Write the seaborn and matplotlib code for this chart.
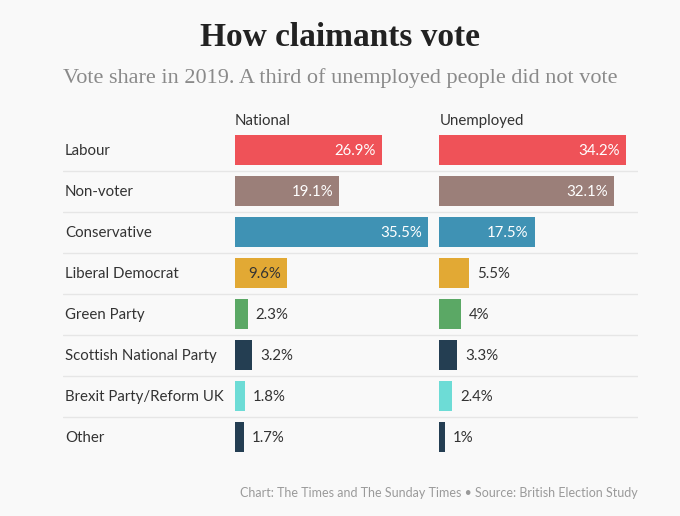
import matplotlib
matplotlib.use("Agg")
import matplotlib.pyplot as plt
import seaborn as sns
import pandas as pd

parties = ["Labour", "Non-voter", "Conservative", "Liberal Democrat", "Green Party",
           "Scottish National Party", "Brexit Party/Reform UK", "Other"]
national = [26.9, 19.1, 35.5, 9.6, 2.3, 3.2, 1.8, 1.7]
unemployed = [34.2, 32.1, 17.5, 5.5, 4, 3.3, 2.4, 1]
colors = ["#ef5258", "#9b7f79", "#3f92b4", "#e2a934", "#5ba865",
          "#243e52", "#6ddcd6", "#243e52"]
inside_text = ["white", "white", "white", "#333333", "white", "white", "white", "white"]
panels = ["National", "Unemployed"]

title = "How claimants vote"
subtitle = "Vote share in 2019. A third of unemployed people did not vote"
footer = "Chart: The Times and The Sunday Times \u2022 Source: British Election Study"

sns.set_theme(style="white")
plt.rcParams["font.family"] = ["Lato", "DejaVu Sans"]

W, H = 680, 516
BG = "#f9f9f9"
fig = plt.figure(figsize=(W / 100, H / 100), dpi=100, facecolor=BG)

def fx(px):
    return px / W

def fy(py):
    return 1 - py / H

top_px, bot_px = 129.5, 457.5
n = len(parties)
ax_bottom = fy(bot_px)
ax_height = (bot_px - top_px) / H
palette = dict(zip(parties, colors))

# background axis for separators and category labels
bg = fig.add_axes([fx(63), ax_bottom, fx(638) - fx(63), ax_height])
bg.set_xlim(0, 1)
bg.set_ylim(n - 0.5, -0.5)
bg.axis("off")
for i in range(n - 1):
    bg.axhline(i + 0.5, color="#e6e6e6", lw=1)
for i, p in enumerate(parties):
    fig.text(fx(65), fy(151 + 41 * i), p, ha="left", va="center",
             fontsize=10.8, color="#333333")

scale = 5.45
xmax = 36
for left_px, vals, name in [(235, national, "National"), (439.3, unemployed, "Unemployed")]:
    ax = fig.add_axes([fx(left_px), ax_bottom, xmax * scale / W, ax_height])
    ax.patch.set_alpha(0)
    df = pd.DataFrame({"party": parties, "value": vals})
    sns.barplot(data=df, y="party", x="value", hue="party", palette=palette,
                order=parties, hue_order=parties, legend=False, width=0.71,
                orient="h", ax=ax, saturation=1, linewidth=0)
    ax.set_xlim(0, xmax)
    ax.set_ylim(n - 0.5, -0.5)
    ax.axis("off")
    for i, v in enumerate(vals):
        lab = f"{v:g}%"
        if v >= 9:
            ax.text(v - 6 / scale, i + 0.03, lab, ha="right", va="center",
                    fontsize=10.8, color=inside_text[i])
        else:
            ax.text(v + 8 / scale, i + 0.03, lab, ha="left", va="center",
                    fontsize=10.8, color="#333333")
    fig.text(fx(left_px), fy(121), name, ha="left", va="center",
             fontsize=10.8, color="#333333")

fig.text(0.5, fy(38), title, ha="center", va="center", fontsize=24,
         fontweight="bold", family=["Liberation Serif", "DejaVu Serif"], color="#222222")
fig.text(0.5, fy(78), subtitle, ha="center", va="center", fontsize=16,
         family=["Liberation Serif", "DejaVu Serif"], color="#8a8a8a")
fig.text(fx(638), fy(493), footer, ha="right", va="center", fontsize=9,
         color="#9a9a9a")

fig.savefig("out.png", dpi=100, facecolor=BG)
